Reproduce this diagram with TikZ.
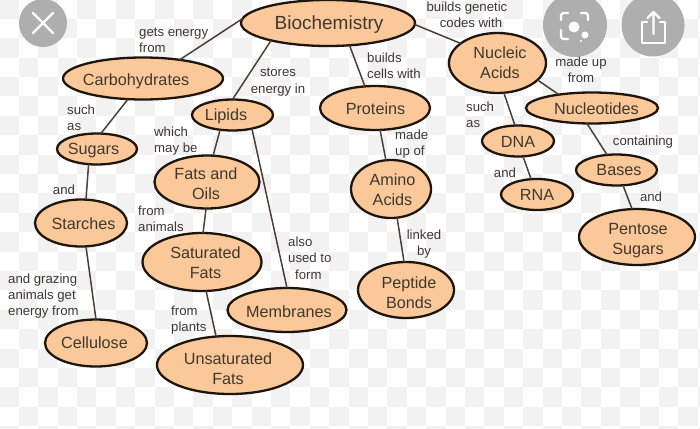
\documentclass[tikz,border=0pt]{standalone}
\usepackage{fontspec}
\setmainfont{Liberation Sans}
\usetikzlibrary{shapes.geometric}
\definecolor{fillc}{HTML}{FBC999}
\definecolor{edgec}{HTML}{1E150C}
\definecolor{linec}{HTML}{4A4034}
\definecolor{textc}{HTML}{3F3830}
\definecolor{checkc}{HTML}{F2F2F2}
\definecolor{iconc}{HTML}{AEAEAE}
\tikzset{
  concept/.style={ellipse,draw=edgec,fill=fillc,line width=2.3pt,inner sep=0pt,outer sep=0pt},
  concepttext/.style={inner sep=0pt,text=textc,align=center,font=\fontsize{16.2}{20}\selectfont},
  linklabel/.style={inner sep=0pt,yshift=-1pt,text=textc,font=\fontsize{13.2}{16.3}\selectfont},
  lab/.style={linklabel,align=left,anchor=west},
  labc/.style={linklabel,align=center},
  conn/.style={draw=linec,line width=1.5pt},
  iconline/.style={draw=white,line width=2.4pt,line cap=round,line join=round}
}
% name, x, y, width, height, text dx, text dy, text
\newcommand{\cnode}[8]{%
  \node[concept,minimum width=#4pt,minimum height=#5pt] (#1) at (#2,#3) {};
  \node[concepttext] (#1-text) at ([shift={(#6pt,#7pt)}]#1.center) {#8};}
\begin{document}
\begin{tikzpicture}[x=1pt,y=-1pt]
\useasboundingbox (0,0) rectangle (700,428);
\fill[white] (0,0) rectangle (700,428);
% faint checkerboard
\foreach \i in {0,...,36}{\foreach \j in {0,...,22}{
  \pgfmathparse{int(mod(\i+\j,2))}
  \ifnum\pgfmathresult=0
    \fill[checkc] ({\i*19.4-0.6},{\j*19.4-0.6}) rectangle ++(19.4,19.4);
  \fi
}}
% concepts (text offsets: +x right, -y down)
\cnode{bio}{328}{23}{174}{46}{1}{-2}{\fontsize{19}{22}\selectfont Biochemistry}
\cnode{carb}{143}{78.5}{160}{42}{-7}{-2.5}{Carbohydrates}
\cnode{sugars}{97}{149}{80}{31}{-3.5}{-2}{Sugars}
\cnode{starches}{81}{223}{92}{47}{2.5}{-1}{Starches}
\cnode{cellulose}{96}{343}{102}{47}{-1.5}{0}{Cellulose}
\cnode{lipids}{232.5}{115}{81}{31}{-6.5}{-1}{Lipids}
\cnode{fats}{207}{182}{105}{53}{-1}{-2}{Fats and\\Oils}
\cnode{saturated}{202}{262}{119}{58}{3.5}{-1}{Saturated\\Fats}
\cnode{unsat}{230}{365}{146}{58}{-2}{-4}{Unsaturated\\Fats}
\cnode{membranes}{287}{310}{119}{44}{2}{-1.5}{Membranes}
\cnode{proteins}{375}{108}{110}{44}{0.5}{-0.5}{Proteins}
\cnode{amino}{391}{189}{80}{58}{1.5}{-1}{Amino\\Acids}
\cnode{peptide}{406}{290}{96}{56}{3}{-3}{Peptide\\Bonds}
\cnode{nucleic}{497.5}{63}{97}{60}{2.5}{0}{Nucleic\\Acids}
\cnode{nucleotides}{592}{108}{132}{31}{4.5}{-1}{Nucleotides}
\cnode{dna}{518}{141}{72}{31}{0}{-1}{DNA}
\cnode{rna}{537}{194.5}{72}{31}{0}{0}{RNA}
\cnode{bases}{616.5}{170}{81}{31}{2.5}{-0.5}{Bases}
\cnode{pentose}{637}{237}{116}{56}{1}{-4}{Pentose\\Sugars}
% connectors
\draw[conn] (bio.177) -- (carb.27);
\draw[conn] (bio.197) -- (lipids.90);
\draw[conn] (bio.314) -- (proteins.115);
\draw[conn] (bio.359) -- (nucleic.152);
\draw[conn] (carb.234) -- (sugars.76);
\draw[conn] (sugars.241) -- (starches.78);
\draw[conn] (starches.282) -- (cellulose.90);
\draw[conn] (lipids.230) -- (fats.77);
\draw[conn] (fats.268) -- (saturated.88);
\draw[conn] (saturated.278) -- (unsat.116);
\draw[conn] (lipids.325) -- (membranes.90);
\draw[conn] (proteins.283) -- (amino.100);
\draw[conn] (amino.282) -- (peptide.94);
\draw[conn] (nucleic.282) -- (dna.101);
\draw[conn] (dna.288) -- (rna.111);
\draw[conn] (nucleic.337) -- (nucleotides.158);
\draw[conn] (nucleotides.252) -- (bases.122);
\draw[conn] (bases.293) -- (pentose.100);
% overlay icons (under the labels)
\fill[iconc] (43,23) circle (24);
\draw[iconline] (33,13) -- (53,33) (53,13) -- (33,33);
\fill[iconc] (575,25) circle (32);
\draw[iconline] (561,20) -- (561,15) -- (563,13) -- (568,13)
  (581,13) -- (586,13) -- (588,15) -- (588,20)
  (561,30) -- (561,37) -- (563,39) -- (568,39);
\draw[iconline] (581,41) -- (581,41);
\fill[white] (574,27) circle (5.5);
\fill[white] (585,35) circle (3.5);
\fill[iconc] (653,25) circle (31.5);
\draw[iconline] (647,22) -- (642,22) -- (642,43) -- (665,43) -- (665,22) -- (660,22);
\draw[iconline] (653.5,34) -- (653.5,13) (647.5,18) -- (653.5,12) -- (659.5,18);
% labels
\node[lab] (l1) at (139,39) {gets energy\\from};
\node[lab] (l2) at (67,117) {such\\as};
\node[labc] (l3) at (278,81) {stores\\energy in};
\node[lab] (l4) at (154,140) {which\\may be};
\node[labc] (l5) at (64,189) {and};
\node[lab] (l6) at (138,218) {from\\animals};
\node[lab] (l7) at (8,295) {and grazing\\animals get\\energy from};
\node[lab] (l8) at (288,257) {also\\used to\\\hspace*{7pt}form};
\node[lab] (l9) at (171,319) {from\\plants};
\node[lab] (l10) at (367,65) {builds\\cells with};
\node[lab] (l11) at (395,143) {made\\up of};
\node[labc] (l12) at (424,243) {linked\\by};
\node[labc] (l13) at (467,14) {builds genetic\\\hspace*{8pt}codes with};
\node[lab] (l14) at (466,114) {such\\as};
\node[labc] (l15) at (505,172) {and};
\node[labc] (l16) at (581,69) {made up\\from};
\node[labc] (l17) at (643,141) {containing};
\node[labc] (l18) at (651,196) {and};
\end{tikzpicture}
\end{document}
